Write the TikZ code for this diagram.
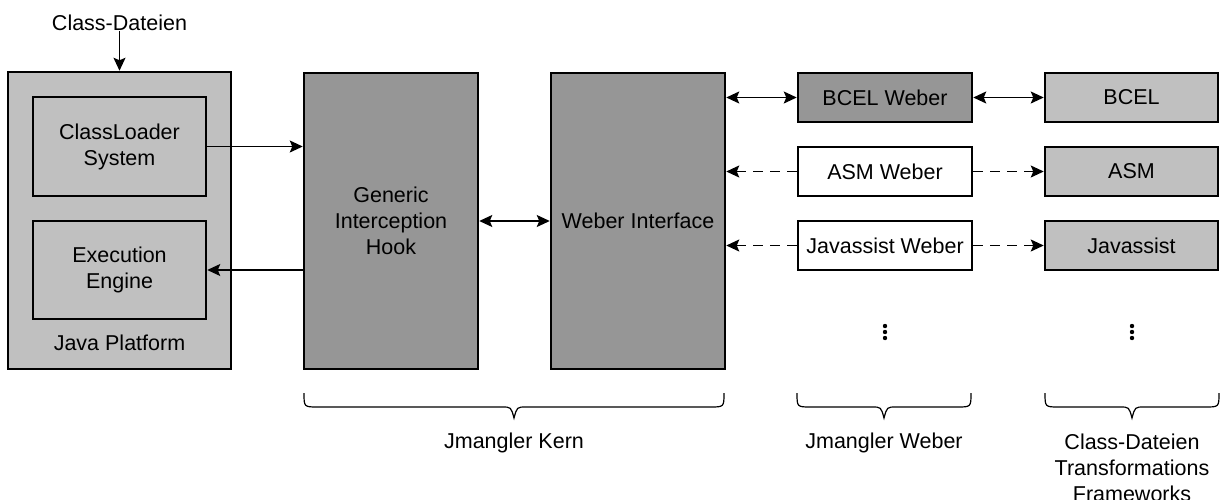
\documentclass[tikz,border=0pt]{standalone}
\usepackage{fontspec}
\setmainfont{Liberation Sans}
\usetikzlibrary{arrows.meta}
\definecolor{lightbox}{HTML}{C0C0C0}
\definecolor{darkbox}{HTML}{969696}
\begin{document}
\begin{tikzpicture}[x=1pt,y=-1pt,
  every node/.style={font=\fontsize{21.5}{26}\selectfont, align=center, inner sep=0pt},
  boxbase/.style={draw=black, line width=2.5pt, rectangle},
  lbox/.style={boxbase, fill=lightbox},
  dbox/.style={boxbase, fill=darkbox},
  wbox/.style={boxbase, fill=white},
  tip/.tip={Stealth[length=13pt,width=12pt,inset=2.5pt]},
  conn/.style={line width=1.4pt, -tip},
  dconn/.style={conn, dash pattern=on 10pt off 7pt},
  bconn/.style={line width=1.4pt, tip-tip},
  bracestyle/.style={line width=1.2pt}
]
\useasboundingbox (0,0) rectangle (1221,499);

% Java platform
\node[lbox, minimum width=223pt, minimum height=297pt] (java) at (119.5,220.5) {};
\node (javalbl) at (119.5,343) {Java Platform};
\node[lbox, minimum width=173pt, minimum height=99pt] (cl) at (119.5,146.5) {ClassLoader\\System};
\node[lbox, minimum width=173pt, minimum height=98pt] (ee) at (119.5,270) {Execution\\Engine};
\node (cd) at (119.5,23) {Class-Dateien};

% Kern
\node[dbox, minimum width=174pt, minimum height=296pt] (gih) at (391,221) {Generic\\Interception\\Hook};
\node[dbox, minimum width=174pt, minimum height=296pt] (wi) at (638,221) {Weber Interface};

% Weber
\node[dbox, minimum width=174pt, minimum height=49pt] (bw) at (885,97.5) {BCEL Weber};
\node[wbox, minimum width=174pt, minimum height=49pt] (aw) at (885,171.5) {ASM Weber};
\node[wbox, minimum width=174pt, minimum height=49pt] (jw) at (885,245.5) {Javassist Weber};

% Frameworks
\node[lbox, minimum width=173pt, minimum height=49pt] (bcel) at (1131.5,97.5) {BCEL};
\node[lbox, minimum width=173pt, minimum height=49pt] (asm) at (1131.5,171.5) {ASM};
\node[lbox, minimum width=173pt, minimum height=49pt] (jav) at (1131.5,245.5) {Javassist};

% connectors
\draw[conn] (cd.south) -- (java.north);
\draw[conn] (cl.east) -- (cl.east -| gih.west);
\draw[conn] (ee.east -| gih.west) -- (ee.east);
\draw[bconn] (gih.east) -- (wi.east -| wi.west);
\draw[bconn] (bw.west -| wi.east) -- (bw.west);
\draw[dconn] (aw.west) -- (aw.west -| wi.east);
\draw[dconn] (jw.west) -- (jw.west -| wi.east);
\draw[bconn] (bw.east) -- (bcel.west);
\draw[dconn] (aw.east) -- (asm.west);
\draw[dconn] (jw.east) -- (jav.west);

% dots
\foreach \y in {326,332,338} {
  \fill (885,\y) circle (2.2pt);
  \fill (1132,\y) circle (2.2pt);
}

% braces
\foreach \xa/\xb in {304/724, 797/971, 1045/1219} {
  \pgfmathsetmacro{\m}{(\xa+\xb)/2}
  \draw[bracestyle] (\xa,393) .. controls (\xa,407) .. (\xa+14,407) -- (\m-12,407)
    .. controls (\m-3,407) .. (\m,418) .. controls (\m+3,407) .. (\m+12,407)
    -- (\xb-14,407) .. controls (\xb,407) .. (\xb,393);
}
\node (kern) at (514,443) {Jmangler Kern};
\node (weber) at (884,443) {Jmangler Weber};
\node (fw) at (1132,468) {Class-Dateien\\Transformations\\Frameworks};
\end{tikzpicture}
\end{document}
